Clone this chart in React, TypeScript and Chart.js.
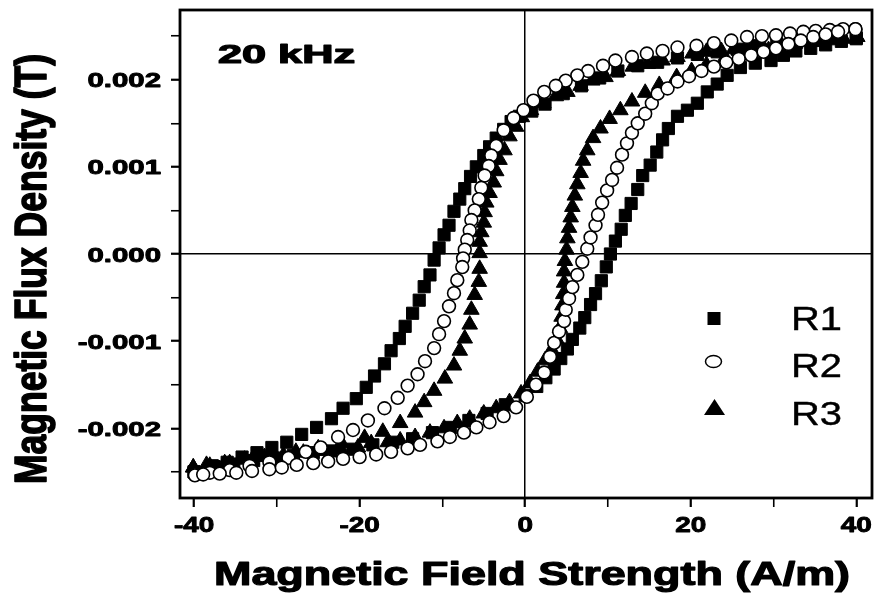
import React, { useEffect, useRef } from 'react';
import { Chart, registerables } from 'chart.js';

Chart.register(...registerables);

// ---------------- data (H in A/m, B in T) ----------------
const SERIES_NAMES = ['R1', 'R2', 'R3'];

// R1 (squares): descending branch (+40 -> -40) then ascending branch (-40 -> +40)
const R1_DESC: number[][] = [
  [40, 0.00248], [37.6, 0.00247], [35.2, 0.00245], [32.8, 0.00243], [30.4, 0.00241], [28.0, 0.00239],
  [25.6, 0.00235], [23.2, 0.00232], [20.8, 0.00229], [18.4, 0.00225], [16.0, 0.0022], [13.6, 0.00216],
  [11.2, 0.0021], [9.0, 0.00202], [6.8, 0.00193], [4.6, 0.00184], [2.4, 0.00172], [0.8, 0.00164],
  [-0.7, 0.00158], [-1.7, 0.00152], [-2.6, 0.00143], [-3.5, 0.00133], [-4.3, 0.00123], [-5.0, 0.00113],
  [-5.9, 0.001], [-6.6, 0.00089], [-7.3, 0.00075], [-7.9, 0.00063], [-8.6, 0.00049], [-9.2, 0.00033],
  [-9.8, 0.00022], [-10.4, 0.00007], [-11.0, -0.00007], [-11.5, -0.00024], [-12.2, -0.000375],
  [-12.8, -0.00053], [-13.6, -0.00068], [-14.5, -0.00083], [-15.2, -0.00097], [-16.2, -0.00111],
  [-17.0, -0.00126], [-18.2, -0.0014], [-19.2, -0.00153], [-20.4, -0.00166], [-22.0, -0.00177],
  [-23.4, -0.00189], [-25.2, -0.00199], [-27.0, -0.00207], [-28.8, -0.00216], [-30.6, -0.00222],
  [-32.4, -0.00228], [-34.2, -0.00233], [-36.0, -0.00239], [-37.8, -0.00243], [-40.0, -0.0025],
];
const R1_ASC: number[][] = [
  [-40, -0.0025], [-37.6, -0.00244], [-35.2, -0.00241], [-32.8, -0.00237], [-30.4, -0.00234],
  [-28.0, -0.00231], [-25.6, -0.00228], [-23.2, -0.00226], [-20.8, -0.00224], [-18.4, -0.00219],
  [-16.0, -0.00216], [-13.6, -0.00212], [-11.2, -0.00205], [-9.0, -0.00199], [-6.8, -0.00191],
  [-4.6, -0.00183], [-2.4, -0.00173], [0, -0.00162], [1.4, -0.00152], [2.5, -0.00142], [3.5, -0.00132],
  [4.3, -0.0012], [5.1, -0.00109], [5.7, -0.00098], [6.6, -0.00085], [7.2, -0.00073], [7.9, -0.00058],
  [8.5, -0.000455], [9.2, -0.000307], [9.8, -0.000148], [10.3, 0], [10.9, 0.000148], [11.6, 0.000284],
  [12.1, 0.000443], [12.8, 0.00058], [13.6, 0.00074], [14.2, 0.0009], [15.1, 0.00102], [15.9, 0.00117],
  [16.6, 0.00131], [17.3, 0.00144], [18.4, 0.00158], [19.6, 0.00165], [20.8, 0.00173], [22.0, 0.00186],
  [23.2, 0.00195], [24.4, 0.00205], [26.0, 0.00214], [27.8, 0.00219], [29.7, 0.00222], [31.2, 0.00228],
  [32.7, 0.00233], [34.5, 0.00236], [36.3, 0.0024], [38.2, 0.00244], [40, 0.00247],
];

// R2 (open circles)
const R2_DESC: number[][] = [
  [39.9, 0.00258], [38.4, 0.00258], [36.8, 0.00257], [35.1, 0.00256], [33.6, 0.00255], [32.0, 0.00253],
  [30.3, 0.00251], [28.6, 0.0025], [26.8, 0.00249], [24.9, 0.00245], [22.8, 0.00242], [20.7, 0.00239],
  [18.4, 0.00237], [16.6, 0.00233], [14.7, 0.0023], [12.9, 0.00226], [10.9, 0.00222], [9.4, 0.00216],
  [7.6, 0.0021], [6.3, 0.00205], [4.9, 0.00199], [3.7, 0.00193], [2.3, 0.00186], [1.0, 0.00176],
  [-0.2, 0.00165], [-1.4, 0.00156], [-2.6, 0.00142], [-3.5, 0.00124], [-4.1, 0.00113], [-4.4, 0.00101],
  [-4.9, 0.0009], [-5.3, 0.00076], [-5.6, 0.00063], [-6.1, 0.0005], [-6.5, 0.00039], [-6.7, 0.00027],
  [-7.0, 0.00016], [-7.3, 0.00005], [-7.5, -0.00005], [-7.6, -0.00015], [-8.2, -0.0003], [-8.6, -0.00045],
  [-9.2, -0.0006], [-9.8, -0.00077], [-10.4, -0.00092], [-11.0, -0.00108], [-12.1, -0.00123],
  [-13.0, -0.00138], [-14.2, -0.00151], [-15.4, -0.00165], [-17.0, -0.00177], [-19.0, -0.00191],
  [-20.8, -0.00202], [-22.6, -0.0021], [-24.7, -0.00222], [-26.5, -0.00227], [-28.6, -0.00234],
  [-30.9, -0.00239], [-33.3, -0.00243], [-35.7, -0.00248], [-38.1, -0.00251], [-39.9, -0.00253],
];
const R2_ASC: number[][] = [
  [-39.9, -0.00254], [-38.9, -0.00253], [-36.9, -0.00252], [-34.9, -0.00251], [-33.0, -0.00249],
  [-30.9, -0.00247], [-29.4, -0.00245], [-27.6, -0.00242], [-25.6, -0.0024], [-23.8, -0.00238],
  [-22.0, -0.00235], [-20.0, -0.00233], [-18.0, -0.0023], [-16.2, -0.00227], [-14.2, -0.00223],
  [-12.7, -0.00219], [-10.6, -0.00215], [-9.1, -0.0021], [-7.4, -0.00205], [-5.9, -0.00199],
  [-4.3, -0.00193], [-2.6, -0.00186], [-1.1, -0.00176], [0.2, -0.00164], [1.3, -0.0015], [2.3, -0.00136],
  [3.0, -0.00118], [3.5, -0.00102], [4.1, -0.00089], [4.7, -0.00077], [4.9, -0.00064], [5.3, -0.00051],
  [5.7, -0.00038], [6.3, -0.00024], [6.9, -0.00009], [7.5, 0.00006], [7.9, 0.00019], [8.5, 0.00033],
  [8.8, 0.00045], [9.3, 0.00059], [9.9, 0.00073], [10.5, 0.00085], [11.1, 0.00099], [11.7, 0.00114],
  [12.3, 0.00127], [12.9, 0.00139], [13.6, 0.0015], [14.5, 0.00161], [15.3, 0.00173], [16.0, 0.00184],
  [17.2, 0.0019], [18.4, 0.00198], [19.8, 0.00204], [21.3, 0.0021], [22.8, 0.00215], [24.3, 0.0022],
  [25.8, 0.00224], [27.3, 0.00228], [28.8, 0.00232], [30.3, 0.00236], [31.8, 0.00241], [33.3, 0.00245],
  [34.8, 0.00249], [36.3, 0.00252], [37.8, 0.00255], [39.9, 0.00258],
];

// R3 (filled triangles)
const R3_DESC: number[][] = [
  [40.1, 0.00249], [38.4, 0.00248], [36.8, 0.00247], [35.1, 0.00245], [33.6, 0.00244], [32.0, 0.00243],
  [30.3, 0.00242], [28.6, 0.0024], [26.8, 0.00238], [25.2, 0.00235], [23.7, 0.00233], [21.9, 0.00232],
  [20.2, 0.0023], [18.4, 0.00226], [16.6, 0.00222], [14.8, 0.00218], [13.0, 0.00215], [11.2, 0.0021],
  [9.7, 0.00203], [8.1, 0.00199], [6.7, 0.00193], [5.1, 0.00186], [3.7, 0.00181], [2.2, 0.00173],
  [0.7, 0.00165], [-0.4, 0.00157], [-1.1, 0.00146], [-1.9, 0.00135], [-2.5, 0.00119], [-3.1, 0.00108],
  [-3.5, 0.00095], [-3.8, 0.00082], [-4.3, 0.0007], [-4.7, 0.00059], [-4.9, 0.00048], [-5.0, 0.00036],
  [-5.3, 0.00025], [-5.5, 0.00014], [-5.5, 0.00001], [-5.5, -0.00017], [-5.6, -0.00032], [-6.1, -0.00047],
  [-6.5, -0.00064], [-6.7, -0.00081], [-7.3, -0.00097], [-7.9, -0.00111], [-8.6, -0.00128],
  [-9.7, -0.00143], [-11.0, -0.00157], [-12.2, -0.0017], [-13.3, -0.00182], [-15.1, -0.00194],
  [-17.2, -0.00204], [-19.4, -0.00211], [-22.2, -0.00217], [-25.0, -0.00223], [-27.7, -0.00227],
  [-30.3, -0.00232], [-33.0, -0.00236], [-35.7, -0.0024], [-38.1, -0.00243], [-40.1, -0.00245],
];
const R3_ASC: number[][] = [
  [-40.1, -0.00245], [-38.5, -0.00242], [-36.3, -0.0024], [-33.9, -0.00236], [-31.5, -0.00233],
  [-29.2, -0.00231], [-26.8, -0.00228], [-24.4, -0.00226], [-22.2, -0.00225], [-20.2, -0.00222],
  [-18.6, -0.00217], [-16.6, -0.00216], [-15.1, -0.00214], [-13.3, -0.0021], [-11.5, -0.00205],
  [-9.8, -0.002], [-8.2, -0.00194], [-6.7, -0.00189], [-5.0, -0.00183], [-3.5, -0.00177], [-1.9, -0.0017],
  [-0.5, -0.0016], [0.6, -0.00148], [1.5, -0.00135], [2.4, -0.00122], [3.2, -0.0011], [3.8, -0.00098],
  [4.2, -0.00085], [4.4, -0.00072], [4.5, -0.00059], [4.6, -0.00046], [4.7, -0.00033], [4.7, -0.0002],
  [4.8, -0.00008], [5.0, 0.00005], [5.1, 0.00018], [5.3, 0.0003], [5.5, 0.00042], [5.7, 0.00054],
  [6.0, 0.00067], [6.3, 0.0008], [6.7, 0.00093], [7.0, 0.00107], [7.5, 0.00119], [8.2, 0.00133],
  [9.1, 0.00144], [10.2, 0.00155], [11.5, 0.00165], [12.9, 0.00175], [14.5, 0.00185], [16.2, 0.00194],
  [18.3, 0.00203], [20.1, 0.0021], [21.9, 0.00217], [24.0, 0.00223], [26.4, 0.00228], [29.4, 0.00234],
  [32.4, 0.0024], [35.4, 0.00244], [38.4, 0.00247], [40.1, 0.00249],
];

const X_TICKS = [-40, -30, -20, -10, 0, 10, 20, 30, 40];
const X_TICK_LABELS = ['-40', '', '-20', '', '0', '', '20', '', '40'];
const Y_TICKS = [-0.0025, -0.002, -0.0015, -0.001, -0.0005, 0, 0.0005, 0.001, 0.0015, 0.002, 0.0025];
const Y_TICK_LABELS = ['', '-0.002', '', '-0.001', '', '0.000', '', '0.001', '', '0.002', ''];

const X_TITLE = 'Magnetic Field Strength (A/m)';
const Y_TITLE = 'Magnetic Flux Density (T)';
const ANNOTATION = '20 kHz';

const FONT = '"Liberation Sans", Arial, Helvetica, sans-serif';

const toXY = (pts: number[][]) => pts.map((p) => ({ x: p[0], y: p[1] }));

function drawText(
  ctx: CanvasRenderingContext2D,
  text: string,
  x: number,
  y: number,
  font: string,
  sx: number,
  align: CanvasTextAlign,
  sy = 1,
  rot = 0,
  stroke = 0
) {
  ctx.save();
  ctx.font = font;
  ctx.translate(x, y);
  if (rot) ctx.rotate(rot);
  ctx.scale(sx, sy);
  ctx.textAlign = align;
  ctx.textBaseline = 'alphabetic';
  ctx.fillStyle = '#000';
  ctx.fillText(text, 0, 0);
  if (stroke > 0) {
    ctx.strokeStyle = '#000';
    ctx.lineWidth = stroke;
    ctx.lineJoin = 'round';
    ctx.strokeText(text, 0, 0);
  }
  ctx.restore();
}

function fitScale(ctx: CanvasRenderingContext2D, text: string, font: string, width: number) {
  ctx.save();
  ctx.font = font;
  const w = ctx.measureText(text).width;
  ctx.restore();
  return w > 0 ? width / w : 1;
}

const decorPlugin = {
  id: 'decor',
  beforeDatasetsDraw(chart: any) {
    const ctx: CanvasRenderingContext2D = chart.ctx;
    const a = chart.chartArea;
    ctx.save();
    ctx.strokeStyle = '#000';
    ctx.lineWidth = 2.8;
    ctx.strokeRect(a.left, a.top, a.right - a.left, a.bottom - a.top);
    ctx.restore();
  },
  afterDraw(chart: any) {
    const ctx: CanvasRenderingContext2D = chart.ctx;
    const xs = chart.scales.x;
    const ys = chart.scales.y;

    // tick labels
    const yFont = `bold 21px ${FONT}`;
    Y_TICKS.forEach((v, i) => {
      const lab = Y_TICK_LABELS[i];
      if (!lab) return;
      drawText(ctx, lab, 161, ys.getPixelForValue(v) + 7.5, yFont, 1.4, 'right', 1, 0, 0.9);
    });
    const xFont = `bold 22px ${FONT}`;
    X_TICKS.forEach((v, i) => {
      const lab = X_TICK_LABELS[i];
      if (!lab) return;
      drawText(ctx, lab, xs.getPixelForValue(v), 532, xFont, 1.27, 'center', 1, 0, 0.9);
    });

    // axis titles
    const xtFont = `bold 33px ${FONT}`;
    drawText(ctx, X_TITLE, 532, 585, xtFont, fitScale(ctx, X_TITLE, xtFont, 636), 'center', 1, 0, 1.2);
    const ytFont = `bold 33px ${FONT}`;
    drawText(ctx, Y_TITLE, 46, 269, ytFont, fitScale(ctx, Y_TITLE, ytFont, 430), 'center', 1.35, -Math.PI / 2, 1.2);

    // annotation
    const aFont = `bold 26px ${FONT}`;
    drawText(ctx, ANNOTATION, 218, 63, aFont, fitScale(ctx, ANNOTATION, aFont, 137), 'left', 1, 0, 1.2);

    // legend
    const lFont = `34px ${FONT}`;
    const lsx = fitScale(ctx, 'R2', lFont, 51);
    const names = chart.data.datasets.map((d: any) => d.label);
    const rows = [330, 377, 425];
    ctx.save();
    ctx.fillStyle = '#000';
    ctx.strokeStyle = '#000';
    ctx.fillRect(707.5, 312, 13, 13);
    ctx.lineWidth = 1.5;
    ctx.beginPath();
    ctx.ellipse(713.5, 361.5, 8, 6, 0, 0, Math.PI * 2);
    ctx.fillStyle = '#fff';
    ctx.fill();
    ctx.stroke();
    ctx.fillStyle = '#000';
    ctx.beginPath();
    ctx.moveTo(714.5, 399);
    ctx.lineTo(725, 415);
    ctx.lineTo(704, 415);
    ctx.closePath();
    ctx.fill();
    ctx.restore();
    names.forEach((n: string, i: number) => {
      drawText(ctx, n, 791, rows[i], lFont, lsx, 'left', 1, 0, 0.4);
    });
  },
};

export default function App() {
  const ref = useRef<HTMLCanvasElement | null>(null);

  useEffect(() => {
    if (!ref.current) return;
    const gridColor = (c: any) => (c.tick && Math.abs(c.tick.value) < 1e-12 ? '#000' : 'rgba(0,0,0,0)');
    const chart = new Chart(ref.current, {
      type: 'scatter',
      data: {
        datasets: [
          {
            label: SERIES_NAMES[0],
            data: toXY([...R1_DESC, ...R1_ASC]),
            pointStyle: 'rect',
            pointRadius: 8.6,
            backgroundColor: '#000',
            borderColor: '#000',
            borderWidth: 1,
            order: 2,
          },
          {
            label: SERIES_NAMES[1],
            data: toXY([...R2_DESC, ...R2_ASC]),
            pointStyle: 'circle',
            pointRadius: 6.4,
            backgroundColor: '#fff',
            borderColor: '#000',
            borderWidth: 1.6,
            order: 0,
          },
          {
            label: SERIES_NAMES[2],
            data: toXY([...R3_DESC, ...R3_ASC]),
            pointStyle: 'triangle',
            pointRadius: 9,
            backgroundColor: '#000',
            borderColor: '#000',
            borderWidth: 1,
            order: 1,
          },
        ],
      },
      options: {
        responsive: false,
        animation: false,
        devicePixelRatio: 1,
        layout: { padding: { top: 6, right: 2, left: 0, bottom: 0 } },
        plugins: { legend: { display: false }, tooltip: { enabled: false } },
        scales: {
          x: {
            type: 'linear',
            min: -41.7,
            max: 41.9,
            afterBuildTicks: (s: any) => {
              s.ticks = X_TICKS.map((v) => ({ value: v }));
            },
            afterFit: (s: any) => {
              s.height = 98;
            },
            ticks: { display: false },
            border: { display: false },
            grid: {
              drawOnChartArea: true,
              drawTicks: true,
              tickLength: 9,
              color: gridColor,
              lineWidth: 1.5,
              tickColor: '#000',
              tickWidth: (c: any) => (c.index % 2 === 0 ? 2.2 : 1.6),
            },
          },
          y: {
            type: 'linear',
            min: -0.0028,
            max: 0.0028,
            afterBuildTicks: (s: any) => {
              s.ticks = Y_TICKS.map((v) => ({ value: v }));
            },
            afterFit: (s: any) => {
              s.width = 180;
            },
            ticks: { display: false },
            border: { display: false },
            grid: {
              drawOnChartArea: true,
              drawTicks: true,
              tickLength: 9,
              color: gridColor,
              lineWidth: 1.5,
              tickColor: '#000',
              tickWidth: (c: any) => (c.index % 2 === 1 ? 2.2 : 1.6),
            },
          },
        },
      },
      plugins: [decorPlugin],
    } as any);
    return () => chart.destroy();
  }, []);

  return (
    <div style={{ position: 'absolute', left: 0, top: 0, width: 882, height: 596, background: '#fff' }}>
      <canvas ref={ref} width={882} height={596} style={{ display: 'block', width: 882, height: 596 }} />
    </div>
  );
}
